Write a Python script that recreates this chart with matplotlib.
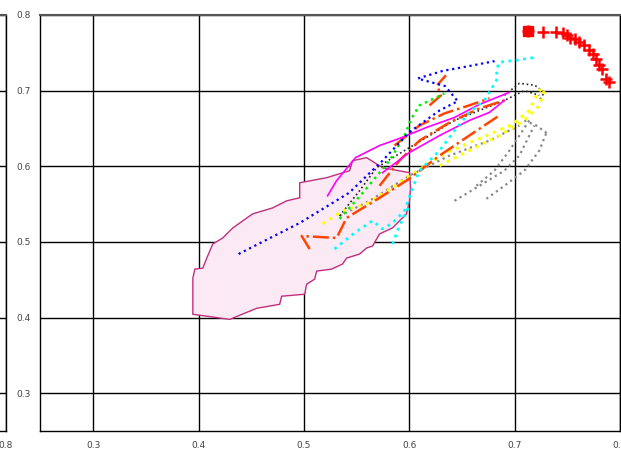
import numpy as np
import matplotlib
matplotlib.use('Agg')
from matplotlib import pyplot as plt

# shaded region (outline)
region_x = [0.3946, 0.3946, 0.4296, 0.4552, 0.477, 0.4789, 0.5007, 0.5026, 0.5102, 0.5121,
            0.5263, 0.5367, 0.5405, 0.5528, 0.5595, 0.5652, 0.5718, 0.5841, 0.5974, 0.6002,
            0.6012, 0.6002, 0.5746, 0.5595, 0.5462, 0.5434, 0.5216, 0.496, 0.496, 0.4836,
            0.4704, 0.4514, 0.4325, 0.423, 0.4135, 0.4078, 0.404, 0.3965]
region_y = [0.452, 0.4043, 0.3976, 0.4122, 0.4175, 0.4282, 0.4308, 0.4441, 0.4507, 0.4614,
            0.464, 0.4707, 0.4786, 0.4839, 0.4919, 0.4946, 0.5105, 0.5185, 0.5371, 0.5543,
            0.5716, 0.5915, 0.5981, 0.6114, 0.6074, 0.5942, 0.5849, 0.5782, 0.5583, 0.5543,
            0.545, 0.5371, 0.5185, 0.5052, 0.4972, 0.4786, 0.4653, 0.464]

# trajectories: (x, y)
gray_tracks = [
    ([0.5339, 0.5623, 0.600, 0.6382, 0.6761, 0.7045], [0.5344, 0.5543, 0.5875, 0.6141, 0.634, 0.6539]),
    ([0.6429, 0.6666, 0.6903, 0.7045, 0.7139, 0.7187], [0.5543, 0.5742, 0.5942, 0.6141, 0.6406, 0.6539]),
    ([0.6732, 0.6903, 0.7092, 0.7234, 0.731], [0.557, 0.5742, 0.5942, 0.6207, 0.6473]),
    ([0.6637, 0.6808, 0.695, 0.7045, 0.7139], [0.5742, 0.5942, 0.6207, 0.6406, 0.6606]),
    ([0.7092, 0.7206, 0.731], [0.6606, 0.6539, 0.6433]),
]
black_tracks = [
    ([0.5339, 0.5528, 0.5689, 0.5906, 0.6163, 0.6429, 0.6666, 0.6903, 0.7092, 0.7234],
     [0.5344, 0.5676, 0.5981, 0.6167, 0.638, 0.6606, 0.6738, 0.6871, 0.70, 0.6938]),
    ([0.6903, 0.7045, 0.7192, 0.7282, 0.7234], [0.6938, 0.7097, 0.707, 0.6977, 0.6871]),
]
yellow_tracks = [
    ([0.5178, 0.5367, 0.5595, 0.5841, 0.600, 0.6353, 0.6666, 0.6978, 0.7139, 0.7206, 0.7253],
     [0.5238, 0.541, 0.5503, 0.5716, 0.5875, 0.6181, 0.6367, 0.6552, 0.6738, 0.6938, 0.7031]),
    ([0.6287, 0.657, 0.6855, 0.7092, 0.7234, 0.7282], [0.6008, 0.6207, 0.6406, 0.6606, 0.6805, 0.70]),
]
orange_tracks = [
    ([0.5055, 0.4979, 0.5311, 0.5405, 0.5718, 0.600, 0.6287, 0.657, 0.6855],
     [0.4906, 0.5078, 0.5052, 0.5317, 0.5583, 0.5835, 0.6141, 0.6406, 0.6672]),
    ([0.5718, 0.5906, 0.6097, 0.6382, 0.6666, 0.6903], [0.5742, 0.6074, 0.634, 0.6579, 0.6765, 0.6871]),
    ([0.586, 0.6097, 0.6334, 0.657, 0.6761], [0.6274, 0.6539, 0.6699, 0.6805, 0.6898]),
    ([0.6192, 0.6301, 0.6263, 0.6348], [0.6805, 0.6938, 0.707, 0.7203]),
]
magenta_tracks = [
    ([0.5225, 0.531, 0.549, 0.5718, 0.5906, 0.6163, 0.6429, 0.6666, 0.695],
     [0.561, 0.5809, 0.6114, 0.6274, 0.6367, 0.6513, 0.6645, 0.6818, 0.6977]),
    ([0.5746, 0.600, 0.6287, 0.657, 0.6761, 0.6903], [0.5915, 0.6181, 0.6406, 0.6606, 0.6712, 0.6871]),
]
green_tracks = [
    ([0.5339, 0.5576, 0.5813, 0.5955, 0.6021, 0.6097, 0.6239, 0.6334],
     [0.5304, 0.5676, 0.6074, 0.6406, 0.6632, 0.6805, 0.6898, 0.6964]),
]
cyan_tracks = [
    ([0.529, 0.548, 0.5652, 0.5746, 0.5841, 0.5955, 0.6021, 0.6097, 0.6287, 0.643, 0.657,
      0.6713, 0.6789, 0.6837, 0.6827, 0.6855, 0.7017, 0.7206],
     [0.4906, 0.5118, 0.528, 0.5171, 0.525, 0.541, 0.5676, 0.5942, 0.6207, 0.6473, 0.6712,
      0.6871, 0.7044, 0.7163, 0.727, 0.7376, 0.7402, 0.7442]),
    ([0.584, 0.5906, 0.600], [0.497, 0.521, 0.5477]),
]
blue_tracks = [
    ([0.438, 0.496, 0.543, 0.5746, 0.600, 0.629, 0.646, 0.634, 0.608, 0.6315, 0.655, 0.681],
     [0.484, 0.525, 0.565, 0.6074, 0.645, 0.674, 0.686, 0.706, 0.716, 0.726, 0.732, 0.739]),
]
red_x = [0.713, 0.727, 0.739, 0.746, 0.750, 0.753, 0.757, 0.761, 0.766, 0.771, 0.774,
         0.777, 0.780, 0.783, 0.787, 0.790]
red_y = [0.779, 0.778, 0.778, 0.776, 0.773, 0.770, 0.768, 0.764, 0.760, 0.754, 0.749,
         0.742, 0.734, 0.729, 0.716, 0.711]

xticks = [0.3, 0.4, 0.5, 0.6, 0.7, 0.8]
yticks = [0.3, 0.4, 0.5, 0.6, 0.7, 0.8]

fig = plt.figure(figsize=(6.21, 4.49), dpi=100)
ax = fig.add_axes([0.0652, 0.0401, 0.9332, 0.9265])
# neighbouring panel, only its right edge is visible
nb = fig.add_axes([-0.3, 0.0401, 0.3089, 0.9265])

for a in (ax, nb):
    a.set_xlim(0.25, 0.8)
    a.set_ylim(0.25, 0.8)
    a.set_xticks(xticks)
    a.set_yticks(yticks)
    a.tick_params(length=0, labelsize=6.5, labelcolor='#444444', pad=7)
    a.grid(True, color='black', lw=1.0)
    a.set_axisbelow(True)
    for s in a.spines.values():
        s.set_color('black')
        s.set_linewidth(1.0)
    a.spines['top'].set_color('#555555')
    a.spines['top'].set_linewidth(1.5)

ax.set_xticklabels([f"{t:.1f}" for t in xticks])
ax.set_yticklabels([f"{t:.1f}" for t in yticks])
# only the last x label of the neighbouring panel shows
nb.set_xticklabels(['' for t in xticks[:-1]] + [f"{xticks[-1]:.1f}"])
nb.set_yticklabels(['' for t in yticks])

ax.fill(region_x, region_y, facecolor='#fbe9f3', edgecolor='#c0307e', lw=1.0, zorder=2)

for x, y in gray_tracks:
    ax.plot(x, y, ls=':', color='#888888', lw=1.6, zorder=3)
for x, y in black_tracks:
    ax.plot(x, y, ls=':', color='#222222', lw=1.2, zorder=3)
for x, y in yellow_tracks:
    ax.plot(x, y, ls=':', color='#ffff00', lw=2.2, zorder=3)
for x, y in orange_tracks:
    ax.plot(x, y, ls='-.', color='#ff4500', lw=1.8, zorder=3)
for x, y in magenta_tracks:
    ax.plot(x, y, ls='-', color='#ff00ff', lw=1.2, zorder=3)
for x, y in green_tracks:
    ax.plot(x, y, ls=':', color='#00ee00', lw=1.8, zorder=3)
for x, y in cyan_tracks:
    ax.plot(x, y, ls=':', color='#00ffff', lw=2.0, zorder=3)
for x, y in blue_tracks:
    ax.plot(x, y, ls=':', color='#0000ff', lw=1.6, zorder=4)

ax.plot(red_x, red_y, ls='none', marker='+', color='#ff0000', ms=9, mew=1.8, zorder=5)
ax.plot(red_x[:1], red_y[:1], ls='none', marker='s', color='#ff0000', ms=7, zorder=5)

fig.savefig('out.png', dpi=100)
